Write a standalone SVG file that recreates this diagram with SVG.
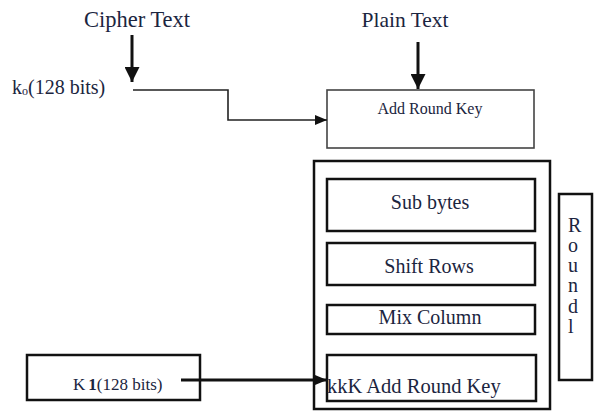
<svg xmlns="http://www.w3.org/2000/svg" width="594" height="412" viewBox="0 0 594 412">
<style>
text{font-family:"Liberation Serif","Times New Roman",serif;fill:#1b2540}
.box{fill:none;stroke:#111;stroke-width:2.5}
.thin{fill:none;stroke:#444;stroke-width:1.6}
.c{text-anchor:middle}
.ln{fill:none;stroke:#111;stroke-width:3}
.lt{fill:none;stroke:#222;stroke-width:1.6}
</style>
<defs>
<marker id="ah" viewBox="0 0 10 10" refX="10" refY="5" markerWidth="15" markerHeight="15" markerUnits="userSpaceOnUse" orient="auto">
<path d="M0,0 L10,5 L0,10 z" fill="#111"/>
</marker>
<marker id="as" viewBox="0 0 12 10" refX="12" refY="5" markerWidth="12" markerHeight="10" markerUnits="userSpaceOnUse" orient="auto">
<path d="M0,0 L12,5 L0,10 z" fill="#111"/>
</marker>
</defs>
<g id="cipher-text"><text x="137" y="27" class="c" font-size="22.5">Cipher Text</text></g>
<g id="plain-text"><text x="405" y="27" class="c" font-size="21.5">Plain Text</text></g>
<g id="k0"><text x="12" y="94" font-size="20">k<tspan font-size="12" dy="1">o</tspan><tspan dy="-1">(128 bits)</tspan></text></g>
<g id="add-round-key-1"><rect class="thin" x="327" y="90" width="207" height="58"/><text x="430" y="114" class="c" font-size="16">Add Round Key</text></g>
<g id="round-block">
<rect class="box" x="314" y="161" width="236" height="248"/>
<g id="sub-bytes"><rect class="box" x="327" y="179" width="208" height="52"/><text x="430" y="209" class="c" font-size="20">Sub bytes</text></g>
<g id="shift-rows"><rect class="box" x="327" y="243" width="208" height="42"/><text x="429" y="273" class="c" font-size="20">Shift Rows</text></g>
<g id="mix-column"><rect class="box" x="327" y="305" width="208" height="29"/><text x="430" y="324" class="c" font-size="20">Mix Column</text></g>
<g id="add-round-key-2"><rect class="box" x="327" y="355" width="209" height="46"/><text x="327" y="393" font-size="20.5">kkK Add Round Key</text></g>
</g>
<g id="round-label"><rect class="box" x="559" y="194" width="33" height="186"/>
<text x="568" font-size="20"><tspan x="568" y="232">R</tspan><tspan x="568" y="252">o</tspan><tspan x="568" y="272">u</tspan><tspan x="568" y="292">n</tspan><tspan x="568" y="313">d</tspan><tspan x="568" y="333">l</tspan></text></g>
<g id="k1"><rect class="box" x="27" y="355" width="173" height="45"/><text x="73" y="390" font-size="17">K<tspan font-weight="bold" dx="3">1</tspan>(128 bits)</text></g>
<g id="connectors">
<line class="ln" x1="132" y1="35" x2="132" y2="82" marker-end="url(#ah)"/>
<line class="ln" x1="418" y1="42" x2="418" y2="89" marker-end="url(#ah)"/>
<polyline class="lt" points="133,90 228,90 228,120 327,120" marker-end="url(#as)"/>
<line class="ln" x1="181" y1="380" x2="327" y2="380" marker-end="url(#as)"/>
</g>
</svg>
